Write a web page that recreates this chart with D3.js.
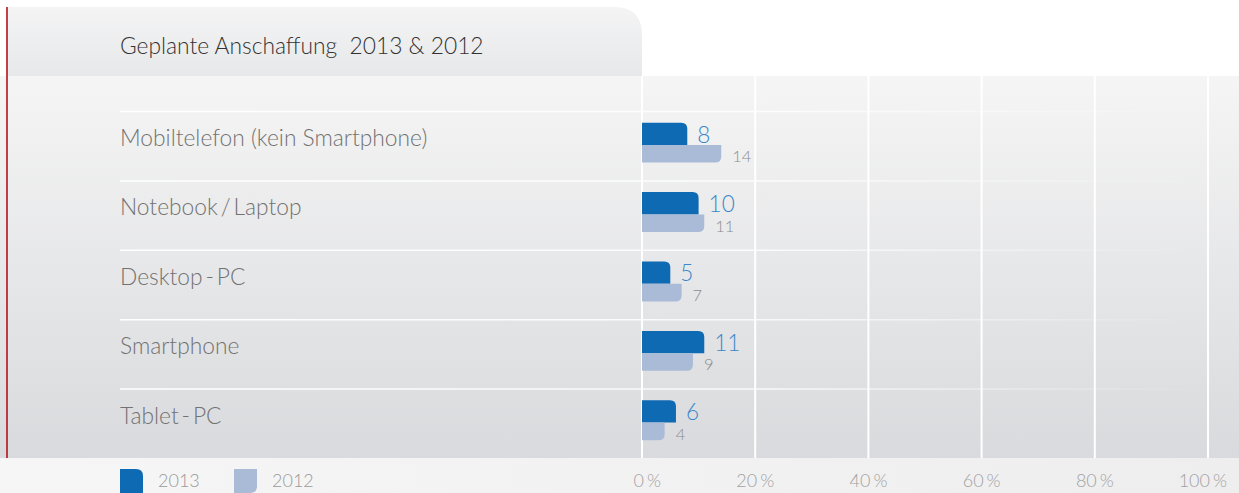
<!DOCTYPE html>
<html>
<head>
<meta charset="utf-8">
<script src="https://cdn.jsdelivr.net/npm/d3@7/dist/d3.min.js"></script>
<style>
  html, body { margin: 0; padding: 0; background: #fff; }
  svg { display: block; }
  text { font-family: Lato, "Open Sans", sans-serif; }
</style>
</head>
<body>
<svg id="chart" width="1239" height="493"></svg>
<script>
// Planned purchases, share of respondents in percent
const title = "Geplante Anschaffung\u00a0 2013 & 2012";
const categories = ["Mobiltelefon (kein Smartphone)", "Notebook\u2009/\u2009Laptop", "Desktop\u2009-\u2009PC", "Smartphone", "Tablet\u2009-\u2009PC"];
const years = ["2013", "2012"];
const values2013 = [8, 10, 5, 11, 6];
const values2012 = [14, 11, 7, 9, 4];
const xTicks = [0, 20, 40, 60, 80, 100];

const W = 1239, H = 493;
const plot = { left: 642, right: 1208, top: 76, bottom: 458 };
const colors = { y2013: "#0f6ab4", y2012: "#aabbd7", label2013: "#3a87c9", label2012: "#8c8c8c" };

const svg = d3.select("#chart");
const defs = svg.append("defs");

function vGrad(id, stops) {
  const g = defs.append("linearGradient").attr("id", id)
    .attr("x1", 0).attr("y1", 0).attr("x2", 0).attr("y2", 1);
  stops.forEach(([o, c]) => g.append("stop").attr("offset", o).attr("stop-color", c));
}
vGrad("panelGrad", [[0, "#f4f4f5"], [1, "#e7e8e9"]]);
vGrad("mainGrad", [[0, "#f5f5f5"], [1, "#d9dadd"]]);
const hg = defs.append("linearGradient").attr("id", "sepGrad")
  .attr("gradientUnits", "userSpaceOnUse").attr("x1", 120).attr("x2", 1200).attr("y1", 0).attr("y2", 0);
hg.append("stop").attr("offset", 0).attr("stop-color", "#fff").attr("stop-opacity", 1);
hg.append("stop").attr("offset", 0.6).attr("stop-color", "#fff").attr("stop-opacity", 0.8);
hg.append("stop").attr("offset", 1).attr("stop-color", "#fff").attr("stop-opacity", 0);
const bg = defs.append("linearGradient").attr("id", "footGrad")
  .attr("x1", 0).attr("x2", 1).attr("y1", 0).attr("y2", 0);
bg.append("stop").attr("offset", 0).attr("stop-color", "#f6f6f6");
bg.append("stop").attr("offset", 1).attr("stop-color", "#eeeeef");

// scales
const x = d3.scaleLinear().domain([0, 100]).range([plot.left, plot.right]);
const y = d3.scaleBand().domain(categories).range([111, plot.bottom]).padding(0);

// backgrounds
svg.append("rect").attr("x", 0).attr("y", plot.bottom).attr("width", W).attr("height", H - plot.bottom)
  .attr("fill", "url(#footGrad)");
svg.append("rect").attr("x", 0).attr("y", plot.top).attr("width", W).attr("height", plot.bottom - plot.top)
  .attr("fill", "url(#mainGrad)");

// title panel with rounded top-right corner
const px0 = 7, px1 = 642, py0 = 7, py1 = plot.top, r = 28;
svg.append("path")
  .attr("d", `M${px0},${py0} H${px1 - r} Q${px1},${py0} ${px1},${py0 + r} V${py1} H${px0} Z`)
  .attr("fill", "url(#panelGrad)");

svg.append("text")
  .attr("transform", "translate(120,54) scale(0.95,1)")
  .attr("font-size", 24).attr("font-weight", 300).attr("fill", "#333")
  .text(title);

// vertical grid lines
svg.append("g").selectAll("line").data(xTicks).join("line")
  .attr("x1", d => x(d)).attr("x2", d => x(d))
  .attr("y1", plot.top).attr("y2", plot.bottom)
  .attr("stroke", "#fff").attr("stroke-width", 2);

// row separators
svg.append("g").selectAll("line").data(categories).join("line")
  .attr("x1", 120).attr("x2", 1200)
  .attr("y1", d => y(d) + 0.5).attr("y2", d => y(d) + 0.5)
  .attr("stroke", "url(#sepGrad)").attr("stroke-width", 1.5);

// red left rule
svg.append("line").attr("x1", 7).attr("x2", 7).attr("y1", 7).attr("y2", plot.bottom)
  .attr("stroke", "#b3121c").attr("stroke-width", 1.6);

// category labels
svg.append("g").selectAll("text").data(categories).join("text")
  .attr("transform", d => `translate(120,${y(d) + 35}) scale(0.95,1)`)
  .attr("font-size", 24).attr("font-weight", 300).attr("fill", "#727272")
  .text(d => d);

// bar shapes: one rounded corner on the right side
function barTopRight(x0, y0, w, h, rr) {
  rr = Math.min(rr, w, h);
  return `M${x0},${y0} H${x0 + w - rr} Q${x0 + w},${y0} ${x0 + w},${y0 + rr} V${y0 + h} H${x0} Z`;
}
function barBottomRight(x0, y0, w, h, rr) {
  rr = Math.min(rr, w, h);
  return `M${x0},${y0} H${x0 + w} V${y0 + h - rr} Q${x0 + w},${y0 + h} ${x0 + w - rr},${y0 + h} H${x0} Z`;
}

const h13 = 22.3, h12 = 17.6, off = 11.7;
const rows = categories.map((c, i) => ({ c, v13: values2013[i], v12: values2012[i] }));

const g = svg.append("g");
g.selectAll("path.b13").data(rows).join("path").attr("class", "b13")
  .attr("d", d => barTopRight(x(0), y(d.c) + off, x(d.v13) - x(0), h13, 6))
  .attr("fill", colors.y2013);
g.selectAll("path.b12").data(rows).join("path").attr("class", "b12")
  .attr("d", d => barBottomRight(x(0), y(d.c) + off + h13, x(d.v12) - x(0), h12, 6))
  .attr("fill", colors.y2012);

g.selectAll("text.l13").data(rows).join("text").attr("class", "l13")
  .attr("x", d => x(d.v13) + 10).attr("y", d => y(d.c) + off + h13 - 2.5)
  .attr("font-size", 22.5).attr("font-weight", 300).attr("fill", colors.label2013)
  .text(d => d.v13);
g.selectAll("text.l12").data(rows).join("text").attr("class", "l12")
  .attr("x", d => x(d.v12) + 11).attr("y", d => y(d.c) + off + h13 + h12 - 0.5)
  .attr("font-size", 16.5).attr("font-weight", 300).attr("fill", colors.label2012)
  .text(d => d.v12);

// x axis labels
const ax = svg.append("g");
ax.selectAll("text.n").data(xTicks).join("text").attr("class", "n")
  .attr("x", d => x(d) + 2).attr("y", 487).attr("text-anchor", "end")
  .attr("font-size", 18).attr("font-weight", 300).attr("fill", "#a2a2a2")
  .text(d => d);
ax.selectAll("text.p").data(xTicks).join("text").attr("class", "p")
  .attr("x", d => x(d) + 5).attr("y", 487)
  .attr("font-size", 18).attr("font-weight", 300).attr("fill", "#a2a2a2")
  .text("%");

// legend
const legend = svg.append("g");
const legendX = [120, 234];
years.forEach((yr, i) => {
  const lx = legendX[i];
  legend.append("path")
    .attr("d", i === 0 ? barTopRight(lx, 469, 23, 30, 7) : barBottomRight(lx, 469, 23, 24, 7))
    .attr("fill", i === 0 ? colors.y2013 : colors.y2012);
  legend.append("text").attr("x", lx + 38).attr("y", 487)
    .attr("font-size", 18).attr("font-weight", 300).attr("fill", "#9a9a9a")
    .text(yr);
});
</script>
</body>
</html>
